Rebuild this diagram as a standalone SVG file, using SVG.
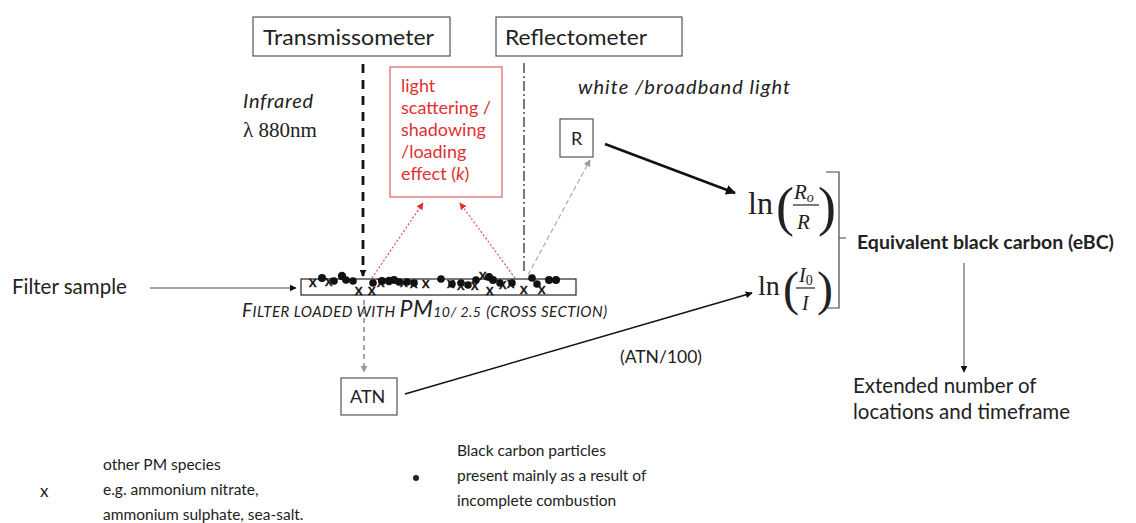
<svg xmlns="http://www.w3.org/2000/svg" width="1136" height="523" viewBox="0 0 1136 523">
<style>
.t{font-family:Lato,"Liberation Sans",sans-serif;fill:#222}
.box{fill:#fff;stroke:#555;stroke-width:1.2}
.m{font-family:"Liberation Serif",serif;fill:#222}
.red{font-family:Lato,"Liberation Sans",sans-serif;fill:#e03030;font-size:18px}
.px{font-family:Lato,"Liberation Sans",sans-serif;fill:#111;font-size:15px;stroke:#111;stroke-width:0.5}
</style>
<defs>
<marker id="ab" viewBox="0 0 10 10" refX="9" refY="5" markerWidth="7" markerHeight="7" orient="auto" markerUnits="userSpaceOnUse"><path d="M0,0 L10,5 L0,10 z" fill="#111"/></marker>
<marker id="abig" viewBox="0 0 10 10" refX="9" refY="5" markerWidth="12" markerHeight="10" orient="auto" markerUnits="userSpaceOnUse"><path d="M0,0 L10,5 L0,10 z" fill="#111"/></marker>
<marker id="ar" viewBox="0 0 10 10" refX="9" refY="5" markerWidth="7" markerHeight="7" orient="auto" markerUnits="userSpaceOnUse"><path d="M0,0 L10,5 L0,10 z" fill="#e03030"/></marker>
<marker id="ag" viewBox="0 0 10 10" refX="9" refY="5" markerWidth="7" markerHeight="7" orient="auto" markerUnits="userSpaceOnUse"><path d="M0,0 L10,5 L0,10 z" fill="#999"/></marker>
</defs>
<rect width="1136" height="523" fill="#fff"/>

<g id="transmissometer"><rect class="box" x="253" y="17" width="197" height="39"/><text class="t" x="263" y="45" font-size="21" textLength="171" lengthAdjust="spacingAndGlyphs">Transmissometer</text></g>
<g id="reflectometer"><rect class="box" x="496" y="17" width="186" height="39"/><text class="t" x="505" y="45" font-size="21" textLength="142" lengthAdjust="spacingAndGlyphs">Reflectometer</text></g>

<g id="labels">
<text class="t" x="243" y="108" font-size="20" font-style="italic" textLength="70">Infrared</text>
<text class="m" x="243" y="137" font-size="21">λ 880nm</text>
<text class="t" x="578" y="94" font-size="20" font-style="italic" textLength="212">white /broadband  light</text>
<text class="t" x="12" y="294" font-size="20.5">Filter sample</text>
<text class="t" x="242" y="317" font-size="19" font-style="italic" textLength="365">F<tspan font-size="15">ILTER LOADED WITH </tspan><tspan font-size="23">PM</tspan><tspan font-size="14">10/ 2.5</tspan>  <tspan font-size="15">(CROSS SECTION)</tspan></text>
<text class="t" x="620" y="363" font-size="17.5">(ATN/100)</text>
</g>

<g id="effect"><rect x="390" y="67" width="112" height="130" fill="#fff" stroke="#e06060" stroke-width="1.2"/>
<text class="red" x="401" y="92">light</text>
<text class="red" x="401" y="114">scattering /</text>
<text class="red" x="401" y="136">shadowing</text>
<text class="red" x="401" y="158">/loading</text>
<text class="red" x="401" y="180">effect (<tspan font-style="italic">k</tspan>)</text></g>

<g id="r-box"><rect class="box" x="560" y="119" width="33" height="38"/><text class="t" x="571" y="145" font-size="18">R</text></g>
<g id="atn"><rect class="box" x="341" y="378" width="56" height="37"/><text class="t" x="350" y="403" font-size="18">ATN</text></g>

<g id="filter">
<rect x="301" y="279" width="275" height="16" fill="#fff" stroke="#333" stroke-width="1.3"/>
<g fill="#111">
<circle cx="322" cy="278" r="4"/><circle cx="334" cy="281" r="3.8"/><circle cx="342" cy="276" r="4.2"/><circle cx="346" cy="280" r="3.8"/><circle cx="353" cy="281" r="3.8"/>
<circle cx="373" cy="283" r="3.8"/><circle cx="382" cy="281" r="4"/><circle cx="389" cy="281" r="4.2"/><circle cx="394" cy="280" r="4"/><circle cx="399" cy="282" r="3.8"/>
<circle cx="407" cy="282" r="3.8"/><circle cx="414" cy="283" r="3.8"/><circle cx="441" cy="279" r="3.8"/><circle cx="452" cy="284" r="3.8"/><circle cx="461" cy="283" r="3.8"/>
<circle cx="468" cy="285" r="3.8"/><circle cx="476" cy="280" r="3.8"/><circle cx="489" cy="277" r="4"/><circle cx="493" cy="280" r="4"/><circle cx="500" cy="283" r="3.8"/>
<circle cx="512" cy="283" r="3.8"/><circle cx="532" cy="278" r="3.8"/><circle cx="537" cy="284" r="3.8"/><circle cx="549" cy="280" r="4"/><circle cx="556" cy="280" r="4"/>
</g>
<g class="px">
<text x="309" y="287">x</text><text x="325" y="286">x</text><text x="355" y="295">x</text><text x="368" y="295">x</text><text x="377" y="287">x</text>
<text x="400" y="287">x</text><text x="410" y="288">x</text><text x="422" y="288">x</text><text x="447" y="288">x</text><text x="457" y="290">x</text>
<text x="471" y="290">x</text><text x="479" y="280">x</text><text x="486" y="295">x</text><text x="499" y="289">x</text><text x="507" y="288">x</text>
<text x="520" y="294">x</text><text x="538" y="294">x</text>
</g>
</g>

<g id="eq-r">
<text class="m" x="748" y="214" font-size="32">ln</text>
<text class="m" x="776" y="225" font-size="54">(</text>
<text class="m" x="794" y="199" font-size="21" font-style="italic">R<tspan font-size="14" dy="3">o</tspan></text>
<line x1="793" y1="205" x2="819" y2="205" stroke="#222" stroke-width="1.2"/>
<text class="m" x="797" y="229" font-size="21" font-style="italic">R</text>
<text class="m" x="818" y="225" font-size="54">)</text>
</g>
<g id="eq-i">
<text class="m" x="758" y="295" font-size="28">ln</text>
<text class="m" x="783" y="305" font-size="48">(</text>
<text class="m" x="799" y="282" font-size="20" font-style="italic">I<tspan font-size="14" font-style="normal" dy="3">0</tspan></text>
<line x1="796" y1="288" x2="815" y2="288" stroke="#222" stroke-width="1.2"/>
<text class="m" x="802" y="310" font-size="20" font-style="italic">I</text>
<text class="m" x="817" y="305" font-size="48">)</text>
</g>
<g id="ebc"><text class="t" x="857" y="249" font-size="19.5" font-weight="bold">Equivalent black carbon (eBC)</text></g>
<g id="extended"><text class="t" x="853" y="393" font-size="20.5">Extended number of</text><text class="t" x="853" y="419" font-size="20.5">locations and timeframe</text></g>

<g id="legend-x"><text class="t" x="40" y="497" font-size="17">x</text>
<text class="t" x="103" y="470" font-size="15.5">other PM species</text>
<text class="t" x="103" y="495" font-size="15.5">e.g. ammonium nitrate,</text>
<text class="t" x="103" y="520" font-size="15.5">ammonium sulphate, sea-salt.</text></g>
<g id="legend-dot"><circle cx="416" cy="478" r="3" fill="#222"/>
<text class="t" x="457" y="456" font-size="15.5">Black carbon particles</text>
<text class="t" x="457" y="481" font-size="15.5">present mainly as a result of</text>
<text class="t" x="457" y="506" font-size="15.5">incomplete combustion</text></g>

<g id="connectors" fill="none">
<line x1="363" y1="64" x2="363" y2="276" stroke="#111" stroke-width="2.8" stroke-dasharray="9,7" marker-end="url(#ab)"/>
<line x1="524" y1="63" x2="524" y2="274" stroke="#222" stroke-width="1.2" stroke-dasharray="10,3,2,3"/>
<line x1="372" y1="278" x2="423" y2="203" stroke="#e05060" stroke-width="1.2" stroke-dasharray="2,2" marker-end="url(#ar)"/>
<line x1="515" y1="278" x2="460" y2="203" stroke="#e05060" stroke-width="1.2" stroke-dasharray="2,2" marker-end="url(#ar)"/>
<line x1="528" y1="275" x2="590" y2="160" stroke="#aaa" stroke-width="1.2" stroke-dasharray="5,3" marker-end="url(#ag)"/>
<line x1="605" y1="144" x2="735" y2="193" stroke="#111" stroke-width="2.5" marker-end="url(#abig)"/>
<line x1="150" y1="288" x2="296" y2="288" stroke="#444" stroke-width="1" marker-end="url(#ab)"/>
<line x1="364" y1="300" x2="364" y2="372" stroke="#888" stroke-width="1.5" stroke-dasharray="5,4" marker-end="url(#ag)"/>
<line x1="405" y1="394" x2="752" y2="293" stroke="#111" stroke-width="1.5" marker-end="url(#ab)"/>
<path d="M826,172 H839 V308 H826 M839,238 H846" stroke="#444" stroke-width="1.2"/>
<line x1="964" y1="263" x2="964" y2="372" stroke="#444" stroke-width="1" marker-end="url(#ab)"/>
</g>
</svg>
